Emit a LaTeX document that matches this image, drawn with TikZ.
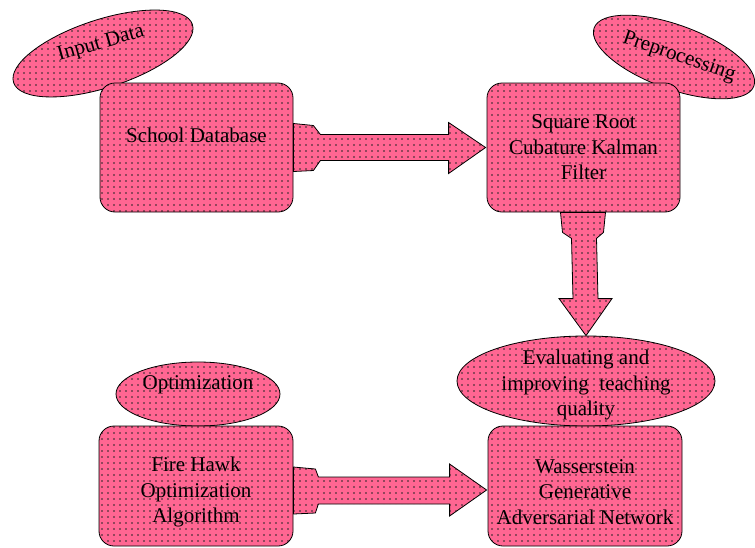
\documentclass[tikz,border=0pt]{standalone}
\usepackage{fontspec}
\setmainfont{Liberation Serif}
\usetikzlibrary{shapes.geometric,patterns.meta,calc}
\definecolor{mypink}{RGB}{255,102,146}
\tikzset{
  dotfill/.style={draw=black, line width=0.8pt, preaction={fill=mypink},
    pattern={Dots[distance=6pt,radius=0.9pt]}, pattern color=black!85},
  box/.style={dotfill, rectangle, rounded corners=15pt, inner sep=0pt},
  oval/.style={dotfill, ellipse, inner sep=0pt},
  txt/.style={font=\rmfamily\fontsize{21}{25.5}\selectfont, align=center, inner sep=0pt},
  blockarrow/.style={dotfill, line join=miter}
}
\begin{document}
\begin{tikzpicture}[x=1pt,y=-1pt]
\useasboundingbox (0,0) rectangle (755,547);
% ellipses (behind boxes)
\node[oval, minimum width=188pt, minimum height=68pt, rotate=18] (inp) at (103,53.5) {};
\node[oval, minimum width=170pt, minimum height=64pt, rotate=-20] (pre) at (674,57) {};
\node[oval, minimum width=258pt, minimum height=90pt] (ev) at (586,381) {};
\node[oval, minimum width=164pt, minimum height=64pt] (opt) at (198,394) {};
% boxes
\node[box, minimum width=193pt, minimum height=129pt] (sd) at (196.5,147.5) {};
\node[box, minimum width=193pt, minimum height=129pt] (sr) at (583.5,147.5) {};
\node[box, minimum width=194pt, minimum height=120pt] (fh) at (196,486) {};
\node[box, minimum width=194pt, minimum height=120pt] (wg) at (585,486) {};
% texts
\node[txt, rotate=16] (inpt) at (101,44) {Input Data};
\node[txt, rotate=-19] (pret) at (679,57) {Preprocessing};
\node[txt] (evt) at ($(ev.center)+(0,4)$) {Evaluating and\\improving\ \ teaching\\quality};
\node[txt] (optt) at ($(opt.center)+(0,-9)$) {Optimization};
\node[txt] (sdt) at ($(sd.center)+(0,-12)$) {School Database};
\node[txt] (srt) at (sr.center) {Square Root\\Cubature Kalman\\Filter};
\node[txt] (fht) at ($(fh.center)+(0,6)$) {Fire Hawk\\Optimization\\Algorithm};
\node[txt] (wgt) at ($(wg.center)+(0,6)$) {Wasserstein\\Generative\\Adversarial Network};
% top arrow: School Database -> Square Root CKF
\draw[blockarrow]
  ($(sd.east)+(0,-24)$) -- ($(sd.east)+(20,-22)$) -- ($(sd.east)+(27,-13)$)
  -- ($(sr.west)+(-38,-13)$) -- ($(sr.west)+(-38,-25)$) -- ($(sr.west)+(-1,0)$)
  -- ($(sr.west)+(-38,26)$) -- ($(sr.west)+(-38,13)$)
  -- ($(sd.east)+(27,13)$) -- ($(sd.east)+(20,23)$) -- ($(sd.east)+(0,24)$) -- cycle;
% down arrow: Square Root CKF -> Evaluating
\draw[blockarrow]
  ($(sr.south)+(-23,0)$) -- ($(sr.south)+(-21,20)$) -- ($(sr.south)+(-12,26)$)
  -- ($(ev.north)+(-13,-37)$) -- ($(ev.north)+(-27,-37)$) -- (ev.north)
  -- ($(ev.north)+(26,-37)$) -- ($(ev.north)+(12,-37)$)
  -- ($(sr.south)+(13,26)$) -- ($(sr.south)+(20,20)$) -- ($(sr.south)+(22,0)$) -- cycle;
% bottom arrow: Fire Hawk -> Wasserstein
\coordinate (fa) at ($(fh.east)+(0,4)$);
\coordinate (wa) at ($(wg.west)+(0,4)$);
\draw[blockarrow]
  ($(fa)+(0,-23)$) -- ($(fa)+(22,-21)$) -- ($(fa)+(25,-13)$)
  -- ($(wa)+(-38,-13)$) -- ($(wa)+(-38,-26)$) -- ($(wa)+(-1,0)$)
  -- ($(wa)+(-38,26)$) -- ($(wa)+(-38,14)$)
  -- ($(fa)+(25,14)$) -- ($(fa)+(22,23)$) -- ($(fa)+(0,24)$) -- cycle;
\end{tikzpicture}
\end{document}
